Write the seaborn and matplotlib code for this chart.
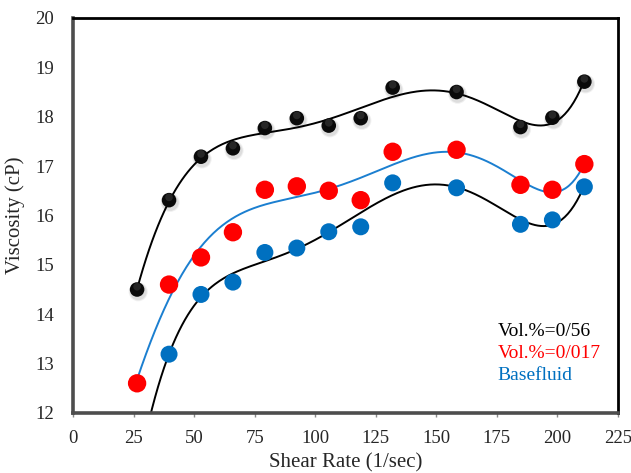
import numpy as np
import pandas as pd
import matplotlib
matplotlib.use("Agg")
import matplotlib.pyplot as plt
import matplotlib.transforms as mtransforms
import seaborn as sns

# Shear rate (1/sec) and viscosity (cP) for each fluid
shear_rate = [26.4, 39.6, 52.8, 66.0, 79.2, 92.4, 105.6, 118.8, 132.0, 158.4, 184.8, 198.0, 211.2]
visc_056 = [14.50, 16.31, 17.19, 17.36, 17.77, 17.97, 17.82, 17.97, 18.59, 18.50, 17.79, 17.98, 18.71]
visc_017 = [12.60, 14.60, 15.15, 15.66, 16.52, 16.59, 16.50, 16.31, 17.29, 17.33, 16.62, 16.52, 17.04]
shear_rate_base = [39.6, 52.8, 66.0, 79.2, 92.4, 105.6, 118.8, 132.0, 158.4, 184.8, 198.0, 211.2]
visc_base = [13.19, 14.40, 14.65, 15.25, 15.34, 15.67, 15.77, 16.66, 16.56, 15.82, 15.91, 16.58]

labels = ["Vol.%=0/56", "Vol.%=0/017", "Basefluid"]
x_ticks = [0, 25, 50, 75, 100, 125, 150, 175, 200, 225]
y_ticks = [12, 13, 14, 15, 16, 17, 18, 19, 20]

sns.set_theme(style="white")
plt.rcParams["font.family"] = ["Liberation Serif", "DejaVu Serif"]

fig = plt.figure(figsize=(6.31, 4.73), dpi=100)
ax = fig.add_axes([0.116, 0.127, 0.863, 0.835])

df056 = pd.DataFrame({"x": shear_rate, "y": visc_056})
df017 = pd.DataFrame({"x": shear_rate, "y": visc_017})
dfb = pd.DataFrame({"x": shear_rate_base, "y": visc_base})


def trend(x, y, deg=6, start=None):
    x = np.asarray(x, float)
    y = np.asarray(y, float)
    coef = np.polyfit(x, y, deg)
    lo = x.min() if start is None else start
    xs = np.linspace(lo, x.max(), 300)
    return pd.DataFrame({"x": xs, "y": np.polyval(coef, xs)})


def shift(coll, dx_pt, dy_pt):
    coll.set_offset_transform(
        ax.transData + mtransforms.ScaledTranslation(dx_pt / 72, dy_pt / 72, fig.dpi_scale_trans))


# polynomial trendlines
sns.lineplot(data=trend(shear_rate, visc_056), x="x", y="y", ax=ax,
             color="black", lw=1.4, zorder=2)
sns.lineplot(data=trend(shear_rate, visc_017), x="x", y="y", ax=ax,
             color="#1b7fd0", lw=1.4, zorder=2)
sns.lineplot(data=trend(shear_rate_base, visc_base, start=shear_rate[0]), x="x", y="y", ax=ax,
             color="black", lw=1.4, zorder=2)

# flat markers
sns.scatterplot(data=dfb, x="x", y="y", ax=ax, s=150, color="#0070c0",
                edgecolor="none", linewidth=0, zorder=3)
sns.scatterplot(data=df017, x="x", y="y", ax=ax, s=175, color="#ff0000",
                edgecolor="none", linewidth=0, zorder=3)

# shaded black spheres: soft shadow, body, highlight
for s_, a_ in ((190, 0.06), (150, 0.08)):
    n_before = len(ax.collections)
    sns.scatterplot(data=df056, x="x", y="y", ax=ax, s=s_, color="#000000",
                    alpha=a_, edgecolor="none", linewidth=0, zorder=3)
    shift(ax.collections[n_before], 0.8, -1.6)
sns.scatterplot(data=df056, x="x", y="y", ax=ax, s=110, color="#0a0a0a",
                edgecolor="none", linewidth=0, zorder=4)
n_before = len(ax.collections)
sns.scatterplot(data=df056, x="x", y="y", ax=ax, s=30, color="#4a4a4a",
                alpha=0.45, edgecolor="none", linewidth=0, zorder=5)
shift(ax.collections[n_before], 0, 2.0)

ax.set_xlim(0, 225)
ax.set_ylim(12, 20)
ax.set_xticks(x_ticks)
ax.set_yticks(y_ticks)
ax.set_xticklabels([str(t) for t in x_ticks], fontsize=13.5)
ax.set_yticklabels([str(t) for t in y_ticks], fontsize=13.5)
ax.tick_params(axis="x", bottom=True, length=3, width=1, color="#888888", pad=9)
ax.tick_params(axis="y", left=False, pad=8)
ax.set_xlabel("Shear Rate (1/sec)", fontsize=15, labelpad=5)
ax.set_ylabel("Viscosity (cP)", fontsize=15, labelpad=7)

for side in ("left", "bottom"):
    ax.spines[side].set_color("#4d4d4d")
    ax.spines[side].set_linewidth(2.6)
for side in ("top", "right"):
    ax.spines[side].set_color("black")
    ax.spines[side].set_linewidth(2.0)

colors = ["black", "#ff0000", "#0070c0"]
for i, (lab, c) in enumerate(zip(labels, colors)):
    ax.text(0.779, 0.207 - i * 0.0555, lab, transform=ax.transAxes,
            color=c, fontsize=14, ha="left", va="center")

fig.savefig("out.png", dpi=100)
